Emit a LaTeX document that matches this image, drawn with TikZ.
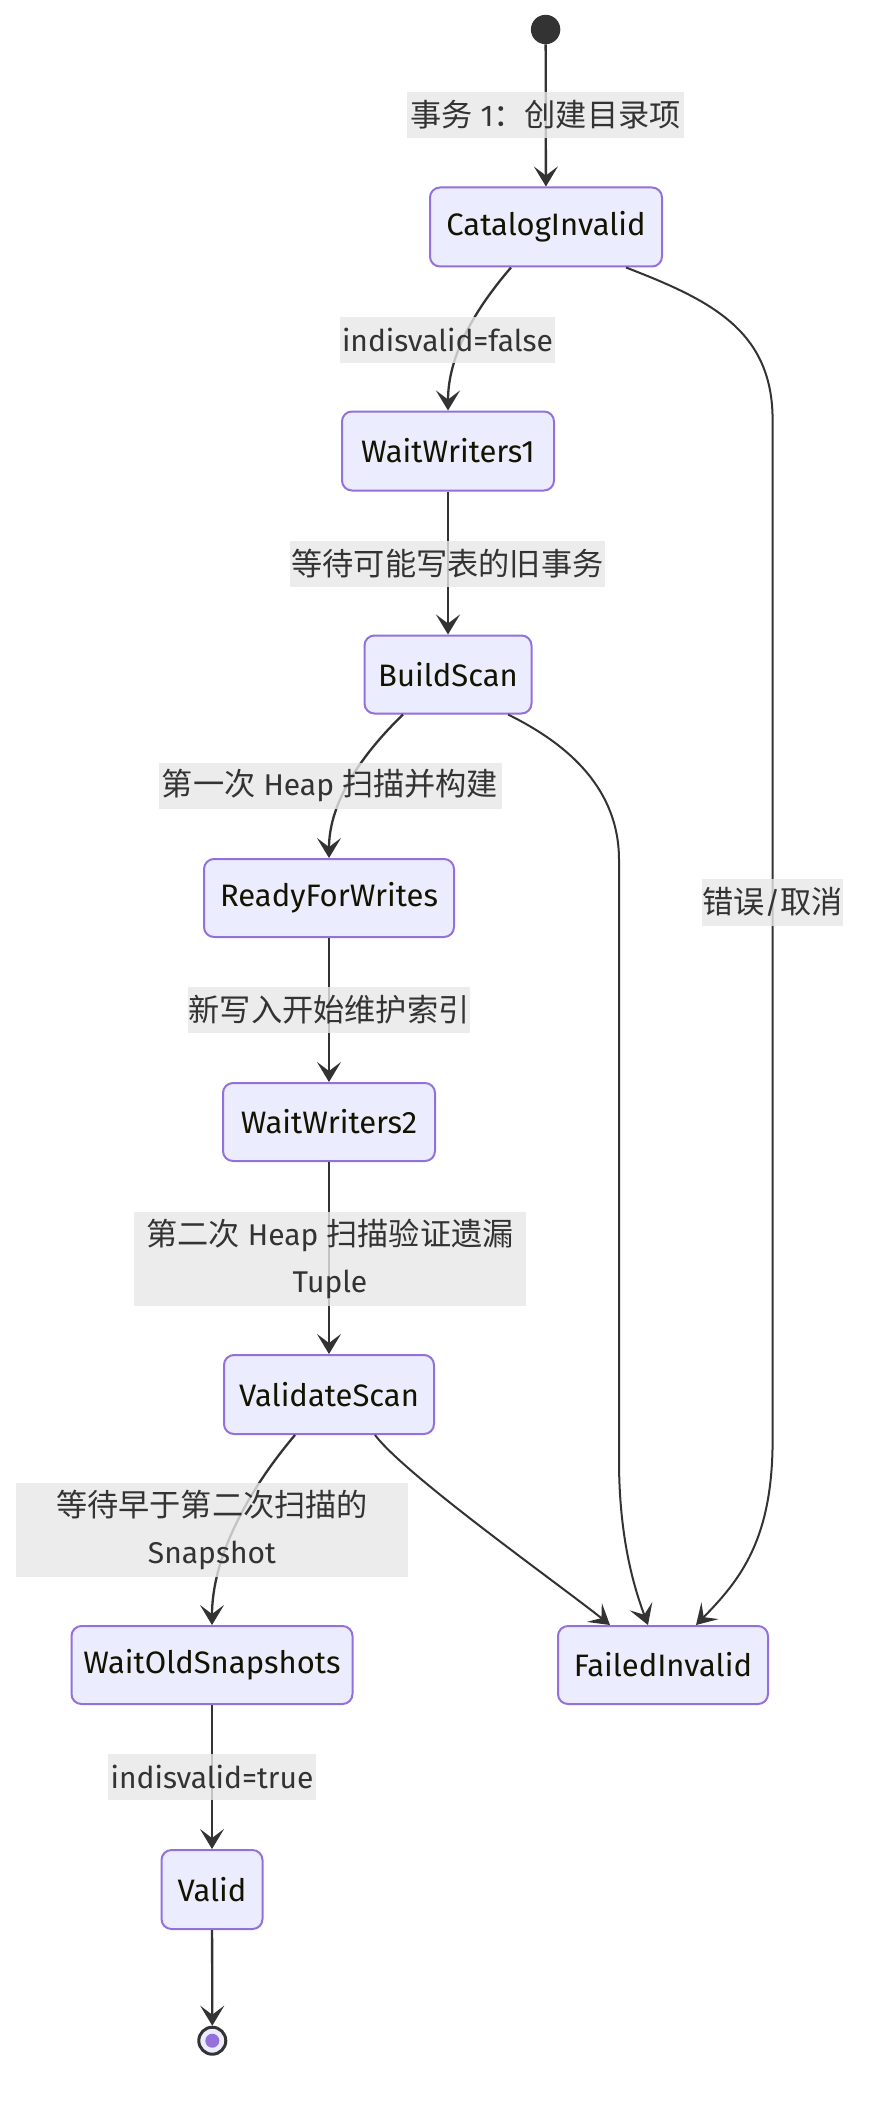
\documentclass[tikz,border=0pt]{standalone}
\usepackage{fontspec}
\setmainfont{Fira Sans}
\newfontfamily\cjk[Scale=1.04]{Noto Sans CJK SC}
\usetikzlibrary{arrows.meta}
\definecolor{nfill}{HTML}{ECECFF}
\definecolor{nborder}{HTML}{9370DB}
\definecolor{edgec}{HTML}{333333}
\definecolor{lblbg}{HTML}{E8E8E8}
\definecolor{ntext}{HTML}{131300}
\begin{document}
\begin{tikzpicture}[x=1pt,y=-1pt,
  state/.style={draw=nborder, fill=nfill, line width=2pt, rounded corners=10pt,
    inner sep=0pt, minimum height=79pt, text=ntext, font=\fontsize{31}{36}\selectfont},
  lbl/.style={fill=lblbg, fill opacity=0.8, text opacity=1, text=edgec, inner sep=0pt,
    minimum height=46pt, font=\fontsize{30}{47}\selectfont, align=center},
  edge/.style={draw=edgec, line width=2.3pt, -{Stealth[length=20pt,width=24pt,inset=9pt]}},
  longedge/.style={edge, line width=2pt}
]
\useasboundingbox (0,0) rectangle (876,2108);
\fill[white] (0,0) rectangle (876,2108);

% states
\node[circle, fill=edgec, minimum size=29.4pt, inner sep=0pt] (start) at (545.6,29.5) {};
\node[state, minimum width=232pt] (CI) at (546,227) {CatalogInvalid};
\node[state, minimum width=212pt] (WW1) at (448,451) {WaitWriters1};
\node[state, minimum width=167pt, minimum height=78pt] (BS) at (448,674.5) {BuildScan};
\node[state, minimum width=250pt, minimum height=78pt] (RFW) at (329,898) {ReadyForWrites};
\node[state, minimum width=212pt, minimum height=78pt] (WW2) at (329,1122) {WaitWriters2};
\node[state, minimum width=210pt] (VS) at (329,1394.5) {ValidateScan};
\node[state, minimum width=281pt, minimum height=78pt] (WOS) at (212,1665) {WaitOldSnapshots};
\node[state, minimum width=210pt, minimum height=78pt] (FI) at (663,1665) {FailedInvalid};
\node[state, minimum width=101pt] (V) at (212,1889.5) {Valid};
\node[circle, draw=edgec, line width=3pt, fill=nfill, minimum size=27pt, inner sep=0pt] (end) at (212.3,2040.7) {};
\node[circle, fill=nborder, minimum size=14pt, inner sep=0pt] (enddot) at (end) {};

% connectors
\draw[edge] (start) -- (CI);
\draw[edge] ([xshift=-35pt]CI.south) .. controls (470,315) and (448,360) .. (WW1.north);
\draw[edge] (WW1) -- (BS);
\draw[edge] ([xshift=-45pt]BS.south) .. controls (354,762) and (329,808) .. (RFW.north);
\draw[edge] (RFW) -- (WW2);
\draw[edge] (WW2) -- (VS);
\draw[edge] ([xshift=-34pt]VS.south) .. controls (245,1494) and (212,1560) .. (WOS.north);
\draw[longedge] ([xshift=46pt]VS.south) .. controls (405,1475) and (560,1585) .. ([xshift=-53pt]FI.north);
\draw[longedge] ([xshift=60pt]BS.south) .. controls (570,745) and (619,790) .. (619,860)
  -- (619,1460) .. controls (619,1540) and (635,1590) .. ([xshift=-15pt]FI.north);
\draw[longedge] ([xshift=80pt]CI.south) .. controls (710,300) and (772.6,330) .. (772.6,420)
  -- (772.6,1440) .. controls (772.6,1540) and (740,1580) .. ([xshift=33pt]FI.north);
\draw[edge] (WOS) -- (V);
\draw[edge] (V) -- (end);

% labels
\node[lbl, minimum width=277pt] (l1) at (545.5,115) {{\cjk 事务} 1{\cjk ：创建目录项}};
\node[lbl, minimum width=215pt] (l2) at (447.5,339.7) {indisvalid=false};
\node[lbl, minimum width=315pt] (l3) at (447.5,564) {{\cjk 等待可能写表的旧事务}};
\node[lbl, minimum width=343pt] (l4) at (330,786) {{\cjk 第一次} Heap {\cjk 扫描并构建}};
\node[lbl, minimum width=282pt] (l5) at (329,1010) {{\cjk 新写入开始维护索引}};
\node[lbl, minimum width=392pt, minimum height=94pt] (l6) at (330,1259) {{\cjk 第二次} Heap {\cjk 扫描验证遗漏}\\Tuple};
\node[lbl, minimum width=392pt, minimum height=94pt] (l7) at (212,1530) {{\cjk 等待早于第二次扫描的}\\Snapshot};
\node[lbl, minimum width=208pt] (l8) at (212,1777) {indisvalid=true};
\node[lbl, minimum width=141pt, minimum height=47pt] (l9) at (772.5,902) {{\cjk 错误}/{\cjk 取消}};
\end{tikzpicture}
\end{document}
